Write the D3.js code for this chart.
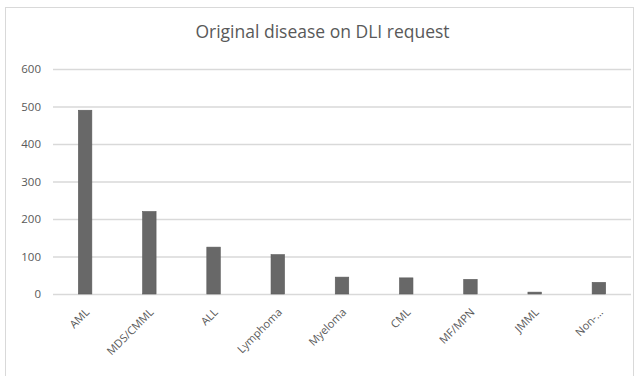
<!DOCTYPE html>
<html>
<head>
<meta charset="utf-8">
<script src="https://cdn.jsdelivr.net/npm/d3@7"></script>
<style>
  html, body { margin: 0; padding: 0; background: #fff; }
  svg { display: block; }
  text { font-family: "Open Sans", "Liberation Sans", sans-serif; }
</style>
</head>
<body>
<svg id="chart" width="635" height="376"></svg>
<script>
// Diseases and number of DLI requests per disease
const categories = ["AML", "MDS/CMML", "ALL", "Lymphoma", "Myeloma", "CML", "MF/MPN", "JMML", "Non-..."];
const requests = [490, 220, 125, 105, 45, 43, 39, 5, 31];
const yTicks = [0, 100, 200, 300, 400, 500, 600];
const chartTitle = "Original disease on DLI request";

const svg = d3.select("#chart");

// chart area frame
svg.append("rect")
  .attr("x", 5.5).attr("y", 7.5)
  .attr("width", 628).attr("height", 380)
  .attr("fill", "#fff")
  .attr("stroke", "#d9d9d9").attr("stroke-width", 1);

const x = d3.scaleBand()
  .domain(categories)
  .range([53, 631])
  .paddingInner(0.79)
  .paddingOuter(0.395);

const y = d3.scaleLinear()
  .domain([0, 600])
  .range([294, 69]);

// horizontal gridlines + value labels
const yAxis = svg.append("g")
  .attr("transform", "translate(53,0)")
  .call(d3.axisLeft(y).tickValues(yTicks).tickSize(-578).tickPadding(12));
yAxis.select(".domain").remove();
yAxis.selectAll(".tick line").attr("stroke", "#d9d9d9").attr("stroke-width", 1.3);
yAxis.selectAll(".tick text")
  .attr("fill", "#595959").attr("font-size", 11.5);

// bars
svg.append("g").selectAll("rect")
  .data(categories)
  .join("rect")
  .attr("x", d => x(d))
  .attr("width", x.bandwidth())
  .attr("y", (d, i) => y(requests[i]))
  .attr("height", (d, i) => y(0) - y(requests[i]))
  .attr("fill", "#686868")
  .attr("stroke", "#5a5a5a")
  .attr("stroke-width", 0.6);

// rotated category labels
const xAxis = svg.append("g")
  .attr("transform", "translate(0,294)")
  .call(d3.axisBottom(x).tickSize(0).tickPadding(0));
xAxis.select(".domain").remove();
xAxis.selectAll(".tick text")
  .attr("fill", "#595959").attr("font-size", 11)
  .attr("text-anchor", "end")
  .attr("dy", null).attr("y", 0)
  .attr("transform", "translate(5,19) rotate(-45)");

// title
svg.append("text")
  .attr("x", 322.5).attr("y", 38)
  .attr("text-anchor", "middle")
  .attr("fill", "#595959")
  .attr("font-size", 17.5)
  .text(chartTitle);
</script>
</body>
</html>
